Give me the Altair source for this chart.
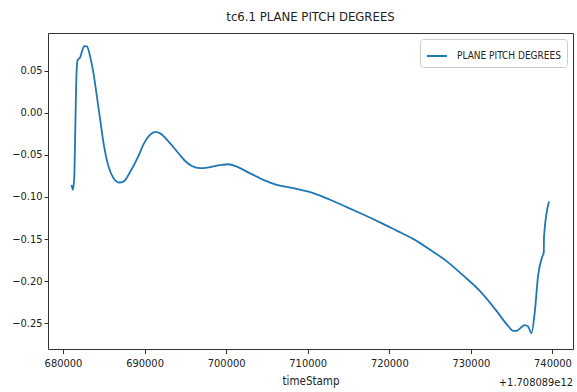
import altair as alt
import pandas as pd

# Pitch telemetry; time stored as offset from 1.708089e12 ms
time_offset = [
    681053, 681224, 681384, 681506, 681629, 681788, 682118, 682363, 682608, 682939,
    683343, 683747, 684163, 684567, 684971, 685583, 686196, 686930, 687420, 688240,
    689257, 689869, 690689, 691301, 691913, 693138, 694154, 694975, 695795, 696811,
    698035, 699260, 700277, 701305, 702530, 704562, 706203, 708236, 710685, 712729,
    714774, 716807, 718851, 720896, 722928, 724973, 727018, 729050, 731095, 733140,
    734560, 735172, 735589, 736605, 737009, 737425, 737829, 738233, 738772, 738931,
    738968, 739580,
]
pitch_deg = [
    -0.0856, -0.0914, -0.0757, -0.0205, 0.0387, 0.0624, 0.0663, 0.0742, 0.0795, 0.0790,
    0.0663, 0.0466, 0.0189, -0.0086, -0.0359, -0.0639, -0.0776, -0.0828, -0.0817, -0.0700,
    -0.0510, -0.0375, -0.0258, -0.0225, -0.0244, -0.0362, -0.0480, -0.0572, -0.0631, -0.0658,
    -0.0645, -0.0622, -0.0611, -0.0639, -0.0698, -0.0796, -0.0856, -0.0895, -0.0954, -0.1033,
    -0.1120, -0.1209, -0.1302, -0.1400, -0.1498, -0.1625, -0.1763, -0.1933, -0.2118, -0.2355,
    -0.2533, -0.2592, -0.2592, -0.2524, -0.2540, -0.2619, -0.2374, -0.1941, -0.1704, -0.1664,
    -0.1467, -0.1053,
]
series_name = "PLANE PITCH DEGREES"

x_ticks = [680000, 690000, 700000, 710000, 720000, 730000, 740000]
y_ticks = [-0.25, -0.20, -0.15, -0.10, -0.05, 0.00, 0.05]
x_domain = [678163, 742519]
y_domain = [-0.2808, 0.0950]
offset_text = "+1.708089e12"

df = pd.DataFrame({"timeStamp": time_offset, "pitch": pitch_deg, "series": series_name})

W, H = 525, 316
FONT = "DejaVu Sans Condensed, Liberation Sans Narrow, Liberation Sans, Arial, sans-serif"
TEXT = "#222222"
FRAME = "#333333"

line = alt.Chart(df).mark_line(strokeWidth=1.8, interpolate="monotone").encode(
    x=alt.X(
        "timeStamp:Q",
        scale=alt.Scale(domain=x_domain, nice=False, zero=False),
        axis=alt.Axis(
            values=x_ticks, format="d", title="timeStamp", domain=False, grid=False,
            tickSize=4.5, tickColor=FRAME, labelPadding=4, labelFont=FONT,
            labelFontSize=11, labelColor=TEXT, titleFont=FONT, titleFontSize=11.5,
            titleFontWeight="normal", titleColor=TEXT, titlePadding=7,
        ),
    ),
    y=alt.Y(
        "pitch:Q",
        scale=alt.Scale(domain=y_domain, nice=False, zero=False),
        axis=alt.Axis(
            values=y_ticks, format=".2f", title=None, domain=False, grid=False,
            tickSize=4, tickColor=FRAME, labelPadding=2, labelFont=FONT,
            labelFontSize=11, labelColor=TEXT,
        ),
    ),
    color=alt.Color(
        "series:N",
        scale=alt.Scale(range=["#1f77b4"]),
        legend=alt.Legend(
            title=None, orient="top-right", offset=6, strokeColor="#cccccc",
            fillColor="white", padding=6, cornerRadius=3, symbolType="stroke",
            symbolSize=400, symbolStrokeWidth=2, labelFont=FONT, labelFontSize=10,
            labelColor=TEXT, labelOffset=9, labelLimit=0,
        ),
    ),
)

offset_label = alt.Chart(pd.DataFrame({"t": [offset_text]})).mark_text(
    align="right", baseline="alphabetic", font=FONT, fontSize=11, color=TEXT
).encode(x=alt.value(W), y=alt.value(H + 37), text="t:N")

chart = (
    alt.layer(line, offset_label)
    .properties(
        width=W,
        height=H,
        title=alt.TitleParams(
            "tc6.1 PLANE PITCH DEGREES", font=FONT, fontSize=13,
            fontWeight="normal", color=TEXT, anchor="middle", offset=9,
        ),
        autosize=alt.AutoSizeParams(type="none"),
        padding={"left": 48, "top": 33, "right": 4, "bottom": 43},
    )
    .configure_view(stroke=FRAME, strokeWidth=1)
)

chart.save("out.html", embed_options={"renderer": "svg", "actions": False})
